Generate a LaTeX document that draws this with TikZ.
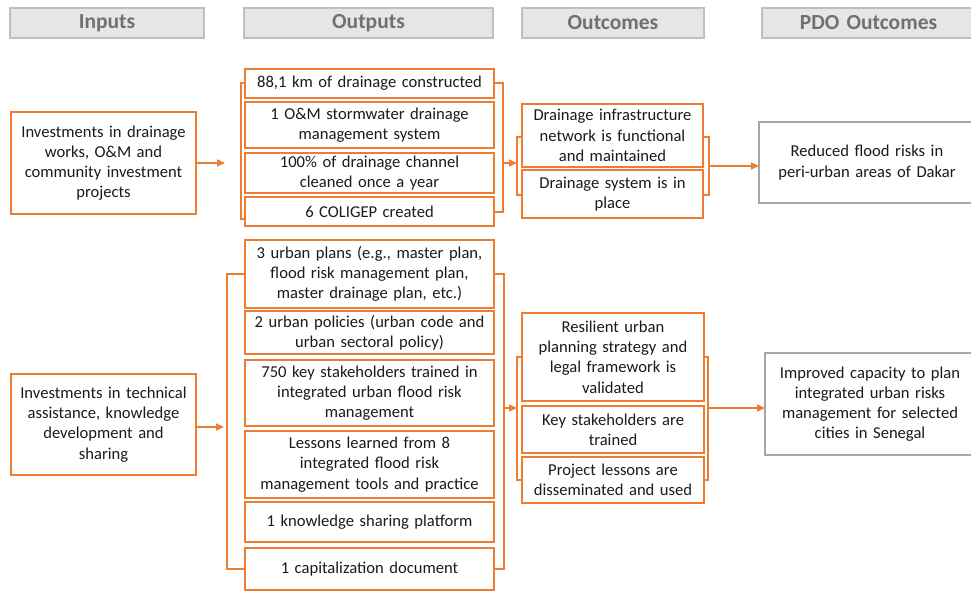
\documentclass[tikz,border=0pt]{standalone}
\usepackage{fontspec}
\setmainfont{Carlito}
\usetikzlibrary{arrows.meta}
\definecolor{orng}{HTML}{ED7D31}
\definecolor{hdrfill}{HTML}{E7E6E6}
\definecolor{hdrline}{HTML}{BFBFBF}
\definecolor{hdrtext}{HTML}{707070}
\definecolor{pdoline}{HTML}{A6A6A6}
\definecolor{txt}{HTML}{1A1A1A}
\newcommand\mybox[7]{%
  \pgfmathsetmacro\myW{#4-#2}\pgfmathsetmacro\myH{#5-#3}%
  \pgfmathsetmacro\myCX{(#2+#4)/2}\pgfmathsetmacro\myCY{-(#3+#5)/2}%
  \pgfmathsetmacro\myTW{#4-#2-6}%
  \node[#6, minimum width=\myW pt, minimum height=\myH pt, text width=\myTW pt] (#1) at (\myCX pt,\myCY pt) {#7};}
\tikzset{
  base/.style={inner sep=0pt, outer sep=0pt, align=center, text=txt,
    font=\fontsize{16.6}{20.2}\selectfont},
  obox/.style={base, draw=orng, line width=1.8pt},
  pbox/.style={base, draw=pdoline, line width=1.6pt, fill=white},
  hbox/.style={base, draw=hdrline, fill=hdrfill, line width=1.2pt, text=hdrtext,
    font=\fontsize{21.5}{24}\selectfont\bfseries},
  oline/.style={draw=orng, line width=1.6pt},
  oarrow/.style={oline, -{Triangle[length=8pt,width=7pt]}}
}
\begin{document}
\begin{tikzpicture}[x=1pt,y=1pt]
\useasboundingbox (0,0) rectangle (971,-591);
% headers
\mybox{h1}{10}{8}{204}{38}{hbox}{Inputs}
\mybox{h2}{244}{8}{493}{38}{hbox}{Outputs}
\mybox{h3}{522}{8}{704}{38}{hbox}{Outcomes}
\mybox{h4}{762}{8}{975}{38}{hbox}{PDO Outcomes}
% ---------- top section ----------
\mybox{in1}{11}{112}{196}{214}{obox}{Investments in drainage\\works, O\&M and\\community investment\\projects}
\mybox{a1}{245}{69}{494}{98}{obox}{88,1 km of drainage constructed}
\mybox{a2}{245}{102}{494}{148}{obox}{1 O\&M stormwater drainage\\management system}
\mybox{a3}{245}{153}{494}{193}{obox}{100\% of drainage channel\\cleaned once a year}
\mybox{a4}{245}{197}{494}{226}{obox}{6 COLIGEP created}
\mybox{c1}{522}{104}{703}{167}{obox}{Drainage infrastructure\\network is functional\\and maintained}
\mybox{c2}{522}{170}{703}{218}{obox}{Drainage system is in\\place}
\mybox{p1}{759}{122}{975}{203}{pbox}{Reduced flood risks in\\peri-urban areas of Dakar}
% brackets top outputs
\draw[oline] (a1.west |- 0,-83) -- (241,-83) -- (241,-219) -- (a4.west |- 0,-219);
\draw[oline] (a1.east |- 0,-83) -- (503,-83) -- (503,-212) -- (a4.east |- 0,-212);
% brackets top outcomes
\draw[oline] (c1.west |- 0,-137) -- (517,-137) -- (517,-195) -- (c2.west |- 0,-195);
\draw[oline] (c1.east |- 0,-137) -- (709,-137) -- (709,-195) -- (c2.east |- 0,-195);
\coordinate (t1) at (225,-163);
\draw[oarrow] (in1.east |- t1) -- (t1);
\coordinate (t2s) at (503,-163);
\coordinate (t2e) at (517,-163);
\draw[oarrow] (t2s) -- (t2e);
\coordinate (t3s) at (709,-166);
\draw[oarrow] (t3s) -- (p1.west |- t3s);
% ---------- bottom section ----------
\mybox{in2}{11}{374}{196}{475}{obox}{Investments in technical\\assistance, knowledge\\development and\\sharing}
\mybox{b1}{245}{240}{494}{308}{obox}{3 urban plans (e.g., master plan,\\flood risk management plan,\\master drainage plan, etc.)}
\mybox{b2}{245}{311}{494}{354}{obox}{2 urban policies (urban code and\\urban sectoral policy)}
\mybox{b3}{245}{360}{494}{426}{obox}{750 key stakeholders trained in\\integrated urban flood risk\\management}
\mybox{b4}{245}{431}{494}{498}{obox}{Lessons learned from 8\\integrated flood risk\\management tools and practice}
\mybox{b5}{245}{502}{494}{542}{obox}{1 knowledge sharing platform}
\mybox{b6}{245}{548}{494}{590}{obox}{1 capitalization document}
\mybox{d1}{522}{313}{704}{401}{obox}{Resilient urban\\planning strategy and\\legal framework is\\validated}
\mybox{d2}{522}{406}{704}{453}{obox}{Key stakeholders are\\trained}
\mybox{d3}{522}{457}{704}{503}{obox}{Project lessons are\\disseminated and used}
\mybox{p2}{765}{353}{975}{455}{pbox}{Improved capacity to plan\\integrated urban risks\\management for selected\\cities in Senegal}
% brackets bottom outputs
\draw[oline] (b1.west |- 0,-274) -- (227,-274) -- (227,-569) -- (b6.west |- 0,-569);
\draw[oline] (b1.east |- 0,-274) -- (504,-274) -- (504,-569) -- (b6.east |- 0,-569);
% brackets bottom outcomes
\draw[oline] (d1.west |- 0,-357) -- (517,-357) -- (517,-480) -- (d3.west |- 0,-480);
\draw[oline] (d1.east |- 0,-357) -- (708,-357) -- (708,-480) -- (d3.east |- 0,-480);
\coordinate (u1) at (224,-427);
\draw[oarrow] (in2.east |- u1) -- (u1);
\coordinate (u2s) at (504,-408);
\coordinate (u2e) at (517,-408);
\draw[oarrow] (u2s) -- (u2e);
\coordinate (u3s) at (708,-408);
\draw[oarrow] (u3s) -- (p2.west |- u3s);
\end{tikzpicture}
\end{document}
